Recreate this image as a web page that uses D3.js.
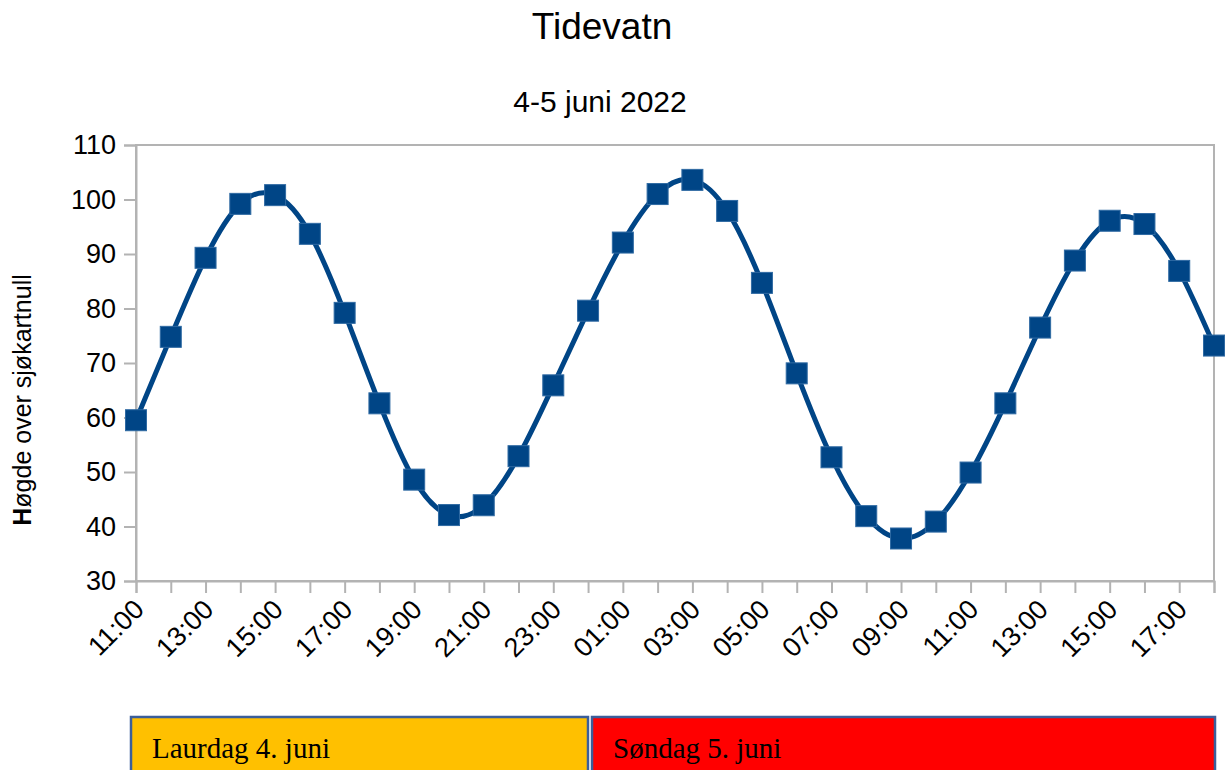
<!DOCTYPE html>
<html>
<head>
<meta charset="utf-8">
<script src="https://cdn.jsdelivr.net/npm/d3@7"></script>
<style>
  html, body { margin: 0; padding: 0; background: #fff; }
  svg { display: block; font-family: "Liberation Sans", Arial, sans-serif; }
</style>
</head>
<body>
<svg id="chart" width="1225" height="770"></svg>
<script>
var hours = ['11:00', '12:00', '13:00', '14:00', '15:00', '16:00', '17:00', '18:00',
  '19:00', '20:00', '21:00', '22:00', '23:00', '00:00', '01:00', '02:00',
  '03:00', '04:00', '05:00', '06:00', '07:00', '08:00', '09:00', '10:00',
  '11:00', '12:00', '13:00', '14:00', '15:00', '16:00', '17:00', '18:00']

var heights = [59.5, 74.8, 89.3, 99.2, 100.8, 93.7, 79.2, 62.6,
  48.6, 42.1, 43.9, 52.9, 65.9, 79.6, 92.1, 101.0,
  103.6, 97.9, 84.7, 68.1, 52.7, 41.9, 37.8, 40.9,
  49.9, 62.6, 76.5, 88.8, 96.1, 95.5, 86.9, 73.2]

var yTicks = [30, 40, 50, 60, 70, 80, 90, 100, 110]

var dayLabels = ['Laurdag 4. juni', 'Søndag 5. juni']
var dayColors = ['#ffc000', '#ff0000']

var title = 'Tidevatn'
,   subtitle = '4-5 juni 2022'
,   yLabel = 'øgde over sjøkartnull'

var plotLeft = 136
,   plotRight = 1214
,   plotTop = 145
,   plotBottom = 581
,   lineColor = '#004586'
,   axisColor = '#b3b3b3'

var svg = d3.select('#chart')

// slot index keeps the repeated hour names apart
var x = d3.scalePoint()
  .domain(d3.range(hours.length))
  .range([plotLeft, plotRight])

var y = d3.scaleLinear()
  .domain([30, 110])
  .range([plotBottom, plotTop])

svg.append('text')
  .attr('x', 602)
  .attr('y', 39)
  .attr('text-anchor', 'middle')
  .attr('font-size', 37)
  .text(title)

svg.append('text')
  .attr('x', 600)
  .attr('y', 112)
  .attr('text-anchor', 'middle')
  .attr('font-size', 30)
  .text(subtitle)

// plot frame
svg.append('rect')
  .attr('x', plotLeft)
  .attr('y', plotTop)
  .attr('width', plotRight - plotLeft)
  .attr('height', plotBottom - plotTop)
  .attr('fill', 'none')
  .attr('stroke', axisColor)
  .attr('stroke-width', 2)

var yAxis = svg.append('g')
  .attr('transform', 'translate(' + plotLeft + ',0)')
  .call(d3.axisLeft(y).tickValues(yTicks).tickSize(12).tickPadding(8))

yAxis.select('.domain').attr('stroke', axisColor).attr('stroke-width', 2)
yAxis.selectAll('.tick line').attr('stroke', axisColor).attr('stroke-width', 2)
yAxis.selectAll('.tick text')
  .attr('font-size', 27)
  .attr('font-family', '"Liberation Sans", Arial, sans-serif')
  .attr('fill', '#000')

var xAxis = svg.append('g')
  .attr('transform', 'translate(0,' + plotBottom + ')')
  .call(d3.axisBottom(x).tickSize(12).tickFormat((i) => i % 2 === 0 ? hours[i] : ''))

xAxis.select('.domain').attr('stroke', axisColor).attr('stroke-width', 2)
xAxis.selectAll('.tick line').attr('stroke', axisColor).attr('stroke-width', 2)
xAxis.selectAll('.tick text')
  .attr('font-size', 27)
  .attr('font-family', '"Liberation Sans", Arial, sans-serif')
  .attr('fill', '#000')
  .attr('text-anchor', 'end')
  .attr('dy', null)
  .attr('y', 0)
  .attr('transform', 'translate(9,30) rotate(-45)')

var yTitle = svg.append('text')
  .attr('transform', 'translate(31,400) rotate(-90)')
  .attr('text-anchor', 'middle')
  .attr('font-size', 25)
yTitle.append('tspan').attr('font-weight', 'bold').text('H')
yTitle.append('tspan').text(yLabel)

var line = d3.line()
  .x((d, i) => x(i))
  .y((d) => y(d))
  .curve(d3.curveNatural)

svg.append('path')
  .datum(heights)
  .attr('fill', 'none')
  .attr('stroke', lineColor)
  .attr('stroke-width', 5)
  .attr('d', line)

var ms = 21
svg.selectAll('.marker')
  .data(heights)
  .enter()
  .append('rect')
  .attr('class', 'marker')
  .attr('x', (d, i) => x(i) - ms / 2)
  .attr('y', (d) => y(d) - ms / 2)
  .attr('width', ms)
  .attr('height', ms)
  .attr('fill', lineColor)
  .attr('stroke', '#2f6aa3')
  .attr('stroke-width', 1)

// day boxes below the chart
var boxes = [[131, 588], [592, 1215]]
svg.selectAll('.day')
  .data(dayLabels)
  .enter()
  .append('rect')
  .attr('class', 'day')
  .attr('x', (d, i) => boxes[i][0])
  .attr('y', 717)
  .attr('width', (d, i) => boxes[i][1] - boxes[i][0])
  .attr('height', 80)
  .attr('fill', (d, i) => dayColors[i])
  .attr('stroke', '#3b5e9a')
  .attr('stroke-width', 2.5)

svg.selectAll('.dayText')
  .data(dayLabels)
  .enter()
  .append('text')
  .attr('class', 'dayText')
  .attr('x', (d, i) => boxes[i][0] + 21)
  .attr('y', 758)
  .attr('font-family', '"Liberation Serif", "Times New Roman", serif')
  .attr('font-size', 29)
  .attr('fill', '#000')
  .text((d) => d)
</script>
</body>
</html>
